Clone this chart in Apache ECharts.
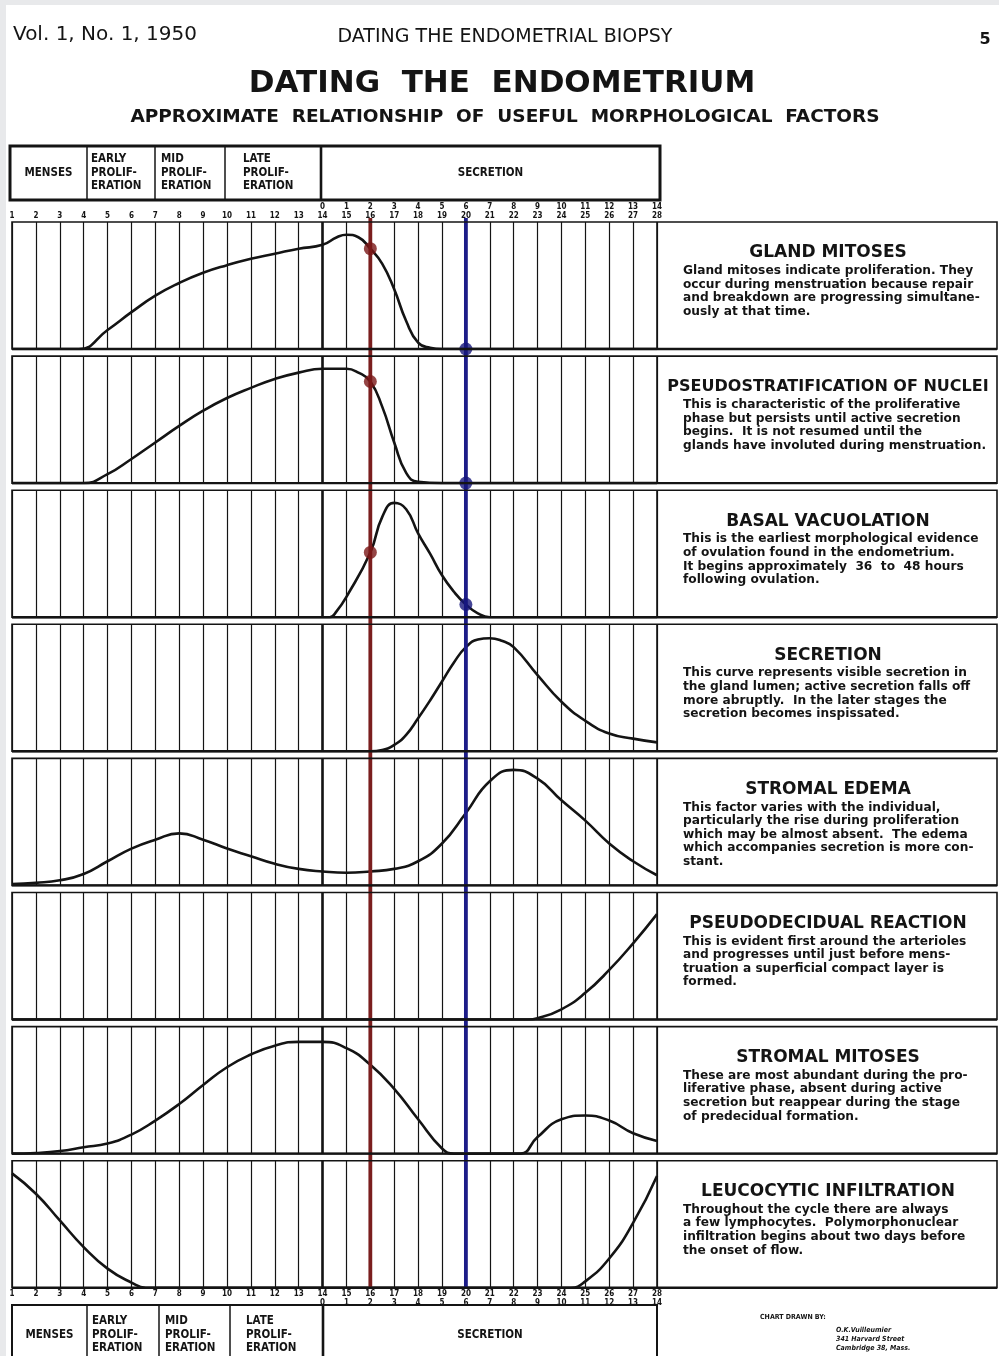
<!DOCTYPE html>
<html><head><meta charset="utf-8">
<script src="https://cdn.jsdelivr.net/npm/echarts@6/dist/echarts.min.js"></script>
<style>html,body{margin:0;padding:0;background:#fff}#c{width:999px;height:1356px}</style>
</head><body><div id="c"></div>
<script>
// ---------- DATA ----------
const dayLabels = [1,2,3,4,5,6,7,8,9,10,11,12,13,14,15,16,17,18,19,20,21,22,23,24,25,26,27,28];
const secretionDayLabels = [0,1,2,3,4,5,6,7,8,9,10,11,12,13,14]; // starting at cycle day 14
const phaseNames = ['MENSES', 'EARLY\nPROLIF-\nERATION', 'MID\nPROLIF-\nERATION', 'LATE\nPROLIF-\nERATION', 'SECRETION'];

const glandMitoses = [[1,0],[2,0],[3,0],[3.8,0],[5,0.15],[6,0.29],[7,0.42],[8,0.52],[9,0.6],[10,0.66],[11,0.71],[12,0.75],[13,0.79],[14,0.82],[14.6,0.88],[15,0.9],[15.5,0.88],[16,0.79],[16.5,0.67],[17,0.47],[17.5,0.22],[18,0.05],[18.5,0.01],[19,0],[20,0],[21,0],[22,0],[23,0],[24,0],[25,0],[26,0],[27,0],[28,0]];
const pseudostratification = [[1,0],[2,0],[3,0],[4,0],[5,0.07],[6,0.19],[7,0.32],[8,0.45],[9,0.57],[10,0.67],[11,0.75],[12,0.82],[13,0.87],[14,0.9],[15,0.9],[15.5,0.87],[16,0.8],[16.5,0.6],[17,0.32],[17.5,0.08],[18,0.01],[19,0],[20,0],[21,0],[22,0],[23,0],[24,0],[25,0],[26,0],[27,0],[28,0]];
const basalVacuolation = [[1,0],[2,0],[3,0],[4,0],[5,0],[6,0],[7,0],[8,0],[9,0],[10,0],[11,0],[12,0],[13,0],[14,0],[14.3,0],[14.6,0.05],[15,0.16],[16,0.51],[16.5,0.79],[17,0.9],[17.5,0.85],[18,0.66],[18.5,0.5],[19,0.33],[19.5,0.2],[20,0.1],[20.5,0.03],[21,0],[22,0],[23,0],[24,0],[25,0],[26,0],[27,0],[28,0]];
const secretion = [[1,0],[2,0],[3,0],[4,0],[5,0],[6,0],[7,0],[8,0],[9,0],[10,0],[11,0],[12,0],[13,0],[14,0],[15,0],[16,0],[16.5,0.01],[17,0.05],[17.5,0.13],[18,0.26],[18.5,0.4],[19,0.55],[19.5,0.7],[20,0.82],[20.5,0.88],[21,0.89],[21.5,0.87],[22,0.82],[23,0.6],[24,0.39],[25,0.24],[26,0.14],[27,0.1],[28,0.07]];
const stromalEdema = [[1,0.01],[2,0.02],[3,0.04],[4,0.09],[5,0.19],[6,0.29],[7,0.36],[8,0.41],[9,0.36],[10,0.29],[11,0.23],[12,0.17],[13,0.13],[14,0.11],[15,0.1],[16,0.11],[17,0.13],[18,0.19],[19,0.33],[20,0.57],[21,0.82],[22,0.91],[23,0.84],[24,0.67],[25,0.51],[26,0.33],[27,0.19],[28,0.08]];
const pseudodecidualReaction = [[1,0],[2,0],[3,0],[4,0],[5,0],[6,0],[7,0],[8,0],[9,0],[10,0],[11,0],[12,0],[13,0],[14,0],[15,0],[16,0],[17,0],[18,0],[19,0],[20,0],[21,0],[22,0],[22.6,0],[23,0.01],[24,0.08],[25,0.21],[26,0.39],[27,0.6],[28,0.83]];
const stromalMitoses = [[1,0],[2,0.005],[3,0.02],[4,0.05],[5,0.08],[6,0.15],[7,0.26],[8,0.39],[9,0.54],[10,0.68],[11,0.78],[12,0.85],[13,0.88],[14,0.88],[15,0.83],[16,0.7],[17,0.51],[18,0.27],[19,0.04],[19.5,0],[20,0],[21,0],[22,0],[22.3,0],[23,0.13],[24,0.27],[25,0.3],[26,0.26],[27,0.16],[28,0.1]];
const leucocyticInfiltration = [[1,0.9],[2,0.74],[3,0.53],[4,0.32],[5,0.15],[6,0.04],[6.6,0],[7,0],[8,0],[9,0],[10,0],[11,0],[12,0],[13,0],[14,0],[15,0],[16,0],[17,0],[18,0],[19,0],[20,0],[21,0],[22,0],[23,0],[24,0],[24.4,0],[25,0.05],[26,0.23],[27,0.51],[28,0.88]];

const curves = [glandMitoses, pseudostratification, basalVacuolation, secretion, stromalEdema, pseudodecidualReaction, stromalMitoses, leucocyticInfiltration];
const panelTitles = ['GLAND MITOSES','PSEUDOSTRATIFICATION OF NUCLEI','BASAL VACUOLATION','SECRETION','STROMAL EDEMA','PSEUDODECIDUAL REACTION','STROMAL MITOSES','LEUCOCYTIC INFILTRATION'];
const panelTexts = [
  ['Gland mitoses indicate proliferation. They','occur during menstruation because repair','and breakdown are progressing simultane-','ously at that time.'],
  ['This is characteristic of the proliferative','phase but persists until active secretion','begins.  It is not resumed until the','glands have involuted during menstruation.'],
  ['This is the earliest morphological evidence','of ovulation found in the endometrium.','It begins approximately  36  to  48 hours','following ovulation.'],
  ['This curve represents visible secretion in','the gland lumen; active secretion falls off','more abruptly.  In the later stages the','secretion becomes inspissated.'],
  ['This factor varies with the individual,','particularly the rise during proliferation','which may be almost absent.  The edema','which accompanies secretion is more con-','stant.'],
  ['This is evident first around the arterioles','and progresses until just before mens-','truation a superficial compact layer is','formed.'],
  ['These are most abundant during the pro-','liferative phase, absent during active','secretion but reappear during the stage','of predecidual formation.'],
  ['Throughout the cycle there are always','a few lymphocytes.  Polymorphonuclear','infiltration begins about two days before','the onset of flow.']
];
const redDay = 16, blueDay = 20;
const markedPanels = [0, 1, 2];

// ---------- LAYOUT ----------
const P_TOP = 222, P_STEP = 134.1, P_H = 127, P_LEFT = 12, P_W = 645, BOX_R = 997;
const FONT = '"DejaVu Sans", sans-serif';
const FONT_C = '"DejaVu Sans Condensed", "DejaVu Sans", sans-serif';
const INK = '#141414';

const chart = echarts.init(document.getElementById('c'), null, {renderer: 'canvas'});

const grids = [], xAxes = [], yAxes = [], series = [];
curves.forEach((data, i) => {
  const top = P_TOP + i * P_STEP;
  grids.push({left: P_LEFT, top: top, width: P_W, height: P_H});
  const showLab = (i === 0 || i === curves.length - 1);
  xAxes.push({
    type: 'value', gridIndex: i, min: 1, max: 28, interval: 1,
    position: i === 0 ? 'top' : 'bottom',
    axisLine: {show: false}, axisTick: {show: false},
    splitLine: {show: true, lineStyle: {color: INK, width: 1.2}},
    axisLabel: {
      show: showLab, margin: 2, fontSize: 8, fontWeight: 'bold', fontFamily: FONT_C, color: INK, lineHeight: 9,
      formatter: v => {
        const d = dayLabels.indexOf(v) >= 0 ? v : null;
        if (d === null) return '';
        const s = d >= 14 ? secretionDayLabels[d - 14] : null;
        if (i === 0) return s !== null ? s + '\n' + d : '' + d;
        return s !== null ? d + '\n' + s : '' + d;
      }
    }
  });
  yAxes.push({type: 'value', gridIndex: i, min: 0, max: 1, show: false});
  series.push({
    type: 'line', xAxisIndex: i, yAxisIndex: i, data: data,
    smooth: 0.5, symbol: 'none', z: 2, clip: true,
    lineStyle: {color: INK, width: 2.6},
    markLine: {silent: true, symbol: 'none', label: {show: false},
      lineStyle: {color: INK, width: 2.6, type: 'solid'}, data: [{xAxis: 14}]}
  });
});
// overlay grid for the red/blue day markers
const OV = curves.length;
const OV_TOP = 218;
grids.push({left: P_LEFT, top: OV_TOP, width: P_W, height: P_TOP + 7 * P_STEP + P_H - OV_TOP});
xAxes.push({type: 'value', gridIndex: OV, min: 1, max: 28, show: false, splitLine: {show: false}});
yAxes.push({type: 'value', gridIndex: OV, min: 0, max: 1, show: false});
series.push({type: 'line', xAxisIndex: OV, yAxisIndex: OV, data: [[redDay, 0], [redDay, 1]], symbol: 'none', z: 3, lineStyle: {color: '#7a1e1e', width: 3.8}});
series.push({type: 'line', xAxisIndex: OV, yAxisIndex: OV, data: [[blueDay, 0], [blueDay, 1]], symbol: 'none', z: 3, lineStyle: {color: '#1c1c88', width: 3.8}});
const valAt = (c, d) => { const p = c.find(q => q[0] === d); return p ? p[1] : 0; };
markedPanels.forEach(i => {
  series.push({type: 'scatter', xAxisIndex: i, yAxisIndex: i, z: 4, symbolSize: 13,
    itemStyle: {color: '#7a1616'}, data: [[redDay, valAt(curves[i], redDay)]]});
  series.push({type: 'scatter', xAxisIndex: i, yAxisIndex: i, z: 4, symbolSize: 13,
    itemStyle: {color: '#17177c'}, data: [[blueDay, valAt(curves[i], blueDay)]]});
});

// ---------- GRAPHICS (frames and text) ----------
const g = [];
g.push({type: 'rect', shape: {x: 0, y: 0, width: 999, height: 1356}, style: {fill: '#e8e9eb'}, z: -10});
g.push({type: 'rect', shape: {x: 6, y: 5, width: 993, height: 1351}, style: {fill: '#ffffff'}, z: -9});
const txt = (x, y, text, opt) => g.push({type: 'text', x: x, y: y, z: 10, style: Object.assign({text: text, fill: INK, textVerticalAlign: 'middle', font: '12px ' + FONT}, opt || {})});

// page header
txt(13, 35, 'Vol. 1, No. 1, 1950', {font: '20px ' + FONT});
txt(505, 37, 'DATING THE ENDOMETRIAL BIOPSY', {font: '19px ' + FONT, textAlign: 'center'});
txt(985, 40, '5', {font: 'bold 16px ' + FONT, textAlign: 'center'});
txt(502, 84, 'DATING  THE  ENDOMETRIUM', {font: 'bold 31px ' + FONT, textAlign: 'center'});
txt(505, 117, 'APPROXIMATE  RELATIONSHIP  OF  USEFUL  MORPHOLOGICAL  FACTORS', {font: 'bold 18.5px ' + FONT, textAlign: 'center'});

// phase header boxes
function phaseBox(x0, y0, x1, y1, divs, lw, texts) {
  g.push({type: 'rect', z: 5, shape: {x: x0, y: y0, width: x1 - x0, height: y1 - y0}, style: {fill: 'none', stroke: INK, lineWidth: lw}});
  divs.forEach((d, k) => g.push({type: 'line', z: 5, shape: {x1: d, y1: y0, x2: d, y2: y1}, style: {stroke: INK, lineWidth: k === divs.length - 1 ? 2.6 : 1.5}}));
  const edges = [x0].concat(divs).concat([x1]);
  phaseNames.forEach((name, k) => {
    const lines = name.split('\n');
    const cy = (y0 + y1) / 2;
    lines.forEach((ln, j) => {
      const yy = cy + (j - (lines.length - 1) / 2) * 13.5;
      if (lines.length === 1) txt((edges[k] + edges[k + 1]) / 2, yy, ln, {font: 'bold 11.5px ' + FONT_C, textAlign: 'center'});
      else txt(edges[k] + texts[k], yy, ln, {font: 'bold 11.5px ' + FONT_C});
    });
  });
}
phaseBox(10, 146, 660, 200, [87, 155, 225, 321], 3, [0, 4, 6, 18, 0]);
phaseBox(12, 1305, 657, 1365, [87, 159, 230, 323], 2, [0, 5, 6, 16, 0]);

// panel frames & text boxes
curves.forEach((c, i) => {
  const top = P_TOP + i * P_STEP;
  g.push({type: 'rect', z: 5, shape: {x: P_LEFT, y: top, width: BOX_R - P_LEFT, height: P_H}, style: {fill: 'none', stroke: INK, lineWidth: 1.6}});
  g.push({type: 'line', z: 5, shape: {x1: P_LEFT, y1: top + P_H, x2: BOX_R, y2: top + P_H}, style: {stroke: INK, lineWidth: 2.4}});
  g.push({type: 'line', z: 5, shape: {x1: 657, y1: top, x2: 657, y2: top + P_H}, style: {stroke: INK, lineWidth: 1.6}});
  const tsize = panelTitles[i].length > 26 ? 16 : 17;
  txt(828, top + 31, panelTitles[i], {font: '600 ' + tsize + 'px ' + FONT, textAlign: 'center'});
  panelTexts[i].forEach((ln, j) => txt(683, top + 49 + j * 13.6, ln, {font: 'bold 12.2px ' + FONT}));
});

// credit
txt(760, 1317, 'CHART DRAWN BY:', {font: 'bold 7px ' + FONT_C});
txt(836, 1330, 'O.K.Vuilleumier', {font: 'italic bold 7px ' + FONT_C});
txt(836, 1339, '341 Harvard Street', {font: 'italic bold 7px ' + FONT_C});
txt(836, 1348, 'Cambridge 38, Mass.', {font: 'italic bold 7px ' + FONT_C});

chart.setOption({
  animation: false,
  backgroundColor: 'transparent',
  grid: grids, xAxis: xAxes, yAxis: yAxes, series: series, graphic: g
});
</script></body></html>
